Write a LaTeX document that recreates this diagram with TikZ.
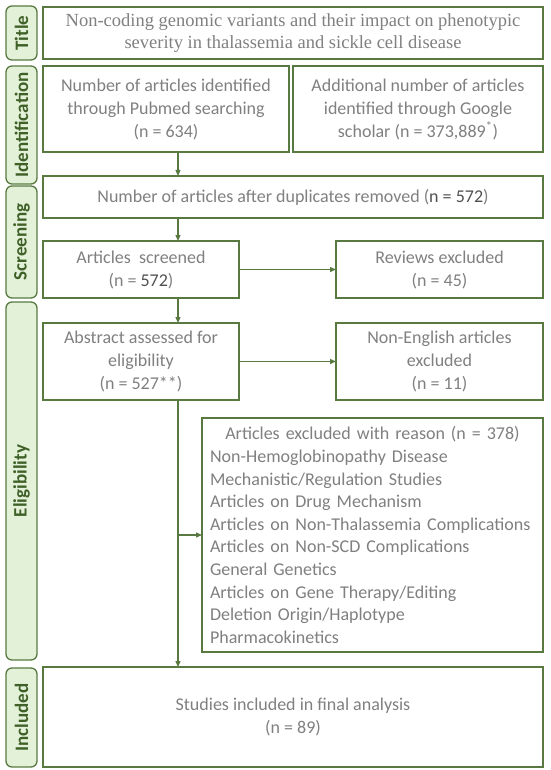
\documentclass[tikz,border=0pt]{standalone}
\usepackage{fontspec}
\setmainfont{Carlito}
\newfontfamily\serifT{Liberation Serif}
\usetikzlibrary{arrows.meta}
\definecolor{gborder}{HTML}{587A40}
\definecolor{gfill}{HTML}{E4F1D9}
\definecolor{gtext}{HTML}{3F6128}
\definecolor{txt}{HTML}{808080}
\definecolor{txtd}{HTML}{505050}
\tikzset{
 box/.style={draw=gborder, line width=1.3pt, fill=white, text=txt, font=\fontsize{18}{23}\selectfont, align=center, inner sep=4pt, outer sep=0pt},
 lab/.style={draw=gborder, line width=1.3pt, fill=gfill, rounded corners=6pt, text=gtext, font=\fontsize{19}{23}\selectfont\bfseries, rotate=90, minimum height=31, inner sep=0pt, outer sep=0pt},
 arr/.style={draw=gborder, line width=1.3pt, -{Triangle[length=6pt,width=5pt]}},
}
\begin{document}
\begin{tikzpicture}[x=1pt,y=-1pt]
\useasboundingbox (0,0) rectangle (550,770);
% side labels
\node[lab, minimum width=54] (lt) at (21.5,33) {Title};
\node[lab, minimum width=118] (li) at (21.5,125) {Identification};
\node[lab, minimum width=112] (ls) at (21.5,242) {Screening};
\node[lab, minimum width=358] (le) at (21.5,481) {Eligibility};
\node[lab, minimum width=99] (lin) at (21.5,717.5) {Included};
% boxes
\node[box, minimum width=500, minimum height=52, font=\serifT\fontsize{18.5}{22.5}\selectfont] (title) at (293,33)
 {Non-coding genomic variants and their impact on phenotypic\\severity in thalassemia and sickle cell disease};
\node[box, minimum width=246, minimum height=86] (pub) at (166,109)
 {Number of articles identified\\through Pubmed searching\\(n = 634)};
\node[box, minimum width=250, minimum height=86] (goo) at (418,109)
 {Additional number of articles\\identified through Google\\scholar (n = 373,889\textsuperscript{*})};
\node[box, minimum width=500, minimum height=42] (dup) at (293,197)
 {Number of articles after duplicates removed ({\color{txtd}n = 572})};
\node[box, minimum width=196, minimum height=57] (scr) at (141,269.5)
 {Articles\ \ screened\\(n = {\color{txtd}572})};
\node[box, minimum width=207, minimum height=57] (rev) at (439.5,269.5)
 {Reviews excluded\\(n = 45)};
\node[box, minimum width=196, minimum height=77] (abs) at (141,361.5)
 {Abstract assessed for\\eligibility\\(n = 527**)};
\node[box, minimum width=207, minimum height=77] (nen) at (439.5,361.5)
 {Non-English articles\\excluded\\(n = 11)};
\node[box, minimum width=341, minimum height=234, text width=325, align=left, inner sep=8pt, font=\fontsize{18}{22.6}\selectfont] (rea) at (372.5,535)
 {\makebox[325pt][c]{Articles excluded with reason (n = 378)}\\
 Non-Hemoglobinopathy Disease\\
 Mechanistic/Regulation Studies\\
 Articles on Drug Mechanism\\
 Articles on Non-Thalassemia Complications\\
 Articles on Non-SCD Complications\\
 General Genetics\\
 Articles on Gene Therapy/Editing\\
 Deletion Origin/Haplotype\\
 Pharmacokinetics};
\node[box, minimum width=500, minimum height=100] (inc) at (293,717)
 {Studies included in final analysis\\(n = 89)};
% connectors
\coordinate (vx) at (178,0);
\draw[arr] (pub.south -| vx) -- (dup.north -| vx);
\draw[arr] (dup.south -| vx) -- (scr.north -| vx);
\draw[arr] (scr.east) -- (rev.west);
\draw[arr] (scr.south -| vx) -- (abs.north -| vx);
\draw[arr] (abs.east) -- (nen.west);
\draw[arr] (abs.south -| vx) -- (inc.north -| vx);
\draw[arr] (rea.west -| vx) -- (rea.west);
\end{tikzpicture}
\end{document}
